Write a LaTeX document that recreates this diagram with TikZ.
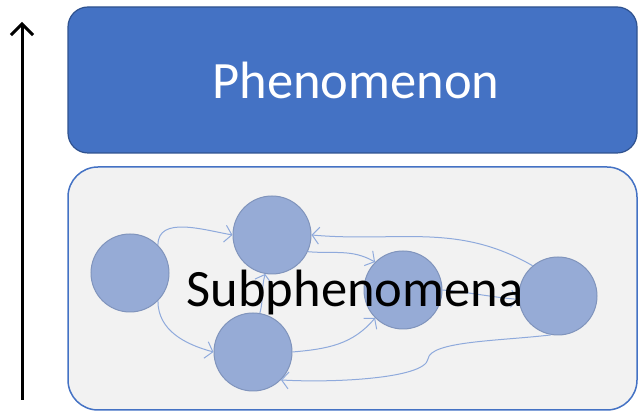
\documentclass[tikz,border=0pt]{standalone}
\usepackage{fontspec}
\setmainfont{Carlito}
\usetikzlibrary{arrows.meta}

\definecolor{phenblue}{RGB}{68,114,196}
\definecolor{phenedge}{RGB}{47,82,143}
\definecolor{subfill}{RGB}{242,242,242}
\definecolor{circfill}{RGB}{150,171,214}
\definecolor{circedge}{RGB}{128,148,188}
\definecolor{linkblue}{RGB}{143,170,220}

\tikzset{
  subnode/.style={circle, fill=circfill, draw=circedge, line width=1pt, minimum size=78pt, inner sep=0pt},
  link/.style={draw=linkblue, line width=1pt, -{Straight Barb[length=7pt,width=17pt]}},
  bigtext/.style={font=\fontsize{52.5}{60}\selectfont}
}

\begin{document}
\begin{tikzpicture}[x=1pt,y=1pt]
        \useasboundingbox (0,0) rectangle (641,411);

        % level arrow
        \draw[line width=3pt, -{Straight Barb[length=11pt,width=22pt]}] (22,11) -- (22,389);

        % boxes
        \draw[fill=phenblue, draw=phenedge, line width=1.2pt, rounded corners=20pt] (68,258) rectangle (637,404);
        \draw[fill=subfill, draw=phenblue, line width=1.5pt, rounded corners=30pt] (68,1) rectangle (637,244);
        \node[bigtext, text=white, anchor=base] (phen) at (356,312) {Phenomenon};

        % subphenomena
        \node[subnode] (A) at (130,138) {};
        \node[subnode] (B) at (272,176) {};
        \node[subnode] (C) at (253,59) {};
        \node[subnode] (D) at (403,121) {};
        \node[subnode] (E) at (558,115) {};

        \draw[link] (A.45) to[out=90,in=170] (B.west);
        \draw[link] (A.-45) to[out=-90,in=165] (C.west);
        \draw[link] (C.80) to[out=75,in=-105] (B.-100);
        \draw[link] (B.-25) to[out=-5,in=150] (D.135);
        \draw[link] (C.east) to[out=5,in=-130] (D.-135);
        \draw[link] (E.130) to[out=150,in=-5] (B.east);
        \draw[link] (D.east) to[out=-5,in=175] (E.185);
        \draw[link] (E.-100) .. controls (500,70) and (430,70) .. (428,52) .. controls (425,32) and (330,28) .. (C.-45);

        \node[bigtext, anchor=base] (subtext) at (355,104) {Subphenomena};
    \end{tikzpicture}
\end{document}
